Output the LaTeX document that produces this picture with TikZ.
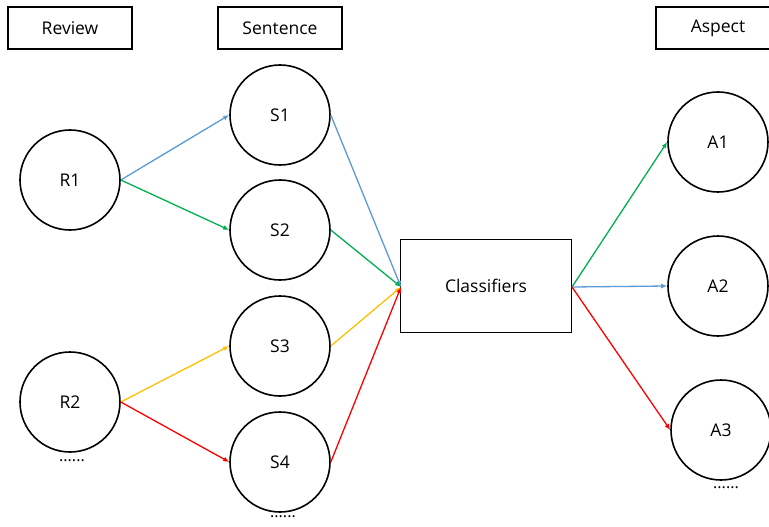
\documentclass[tikz,border=0pt]{standalone}
\usepackage{fontspec}
\setmainfont{Open Sans}
\usetikzlibrary{arrows.meta}
\definecolor{cblue}{HTML}{5B9BD5}
\definecolor{cgreen}{HTML}{00B050}
\definecolor{corange}{HTML}{FFC000}
\definecolor{cred}{HTML}{FF0000}
\begin{document}
\begin{tikzpicture}[x=1pt,y=-1pt,
  circ/.style={draw,circle,line width=1.6pt,minimum size=100pt,inner sep=0pt,font=\fontsize{17.5}{20}\selectfont},
  hdr/.style={draw,rectangle,line width=1.6pt,minimum width=124pt,minimum height=42pt,inner sep=0pt,font=\fontsize{17.5}{20}\selectfont},
  cls/.style={draw,rectangle,line width=1.6pt,minimum width=171pt,minimum height=93pt,inner sep=0pt,font=\fontsize{17.5}{20}\selectfont},
  arr/.style={line width=1.3pt,-{Latex[length=6pt,width=5pt]}},
  dots/.style={font=\fontsize{16}{18}\selectfont,inner sep=0pt}]
\useasboundingbox (0,0) rectangle (769,527);
\clip (0,0) rectangle (769,527);
\node[hdr] (rev) at (70,28) {Review};
\node[hdr] (sen) at (280,28) {Sentence};
\node[hdr] (asp) at (718,28) {Aspect};
\node[circ] (r1) at (70,180) {R1};
\node[circ] (r2) at (70,402) {R2};
\node[circ] (s1) at (280,115) {S1};
\node[circ] (s2) at (280,230) {S2};
\node[circ] (s3) at (280,346) {S3};
\node[circ] (s4) at (280,462) {S4};
\node[cls] (c) at (486,286) {Classifiers};
\node[circ] (a1) at (718,142) {A1};
\node[circ] (a2) at (718,286) {A2};
\node[circ] (a3) at (721,430) {A3};
\node[dots] (d1) at (72,461) {......};
\node[dots] (d2) at (283,517) {......};
\node[dots] (d3) at (726,488) {......};
\coordinate (cin) at (401,287);
\coordinate (cout) at (572,287);
\draw[arr,cblue] (r1.east) -- (s1.west);
\draw[arr,cgreen] (r1.east) -- (s2.west);
\draw[arr,corange] (r2.east) -- (s3.west);
\draw[arr,cred] (r2.east) -- (s4.west);
\draw[arr,cblue] (s1.east) -- (cin);
\draw[arr,cgreen] (s2.east) -- (cin);
\draw[arr,corange] (s3.east) -- (cin);
\draw[arr,cred] (s4.east) -- (cin);
\draw[arr,cgreen] (cout) -- (a1.west);
\draw[arr,cblue] (cout) -- (a2.west);
\draw[arr,cred] (cout) -- (a3.west);
\end{tikzpicture}
\end{document}
